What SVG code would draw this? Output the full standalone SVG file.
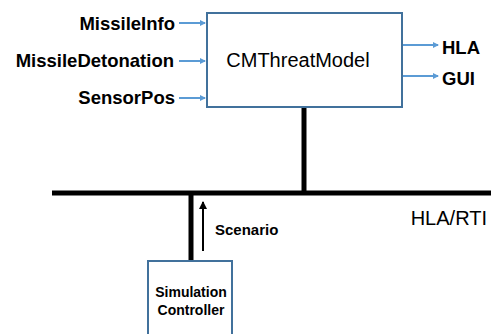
<svg xmlns="http://www.w3.org/2000/svg" width="491" height="334" viewBox="0 0 491 334">
<style>
.box{fill:#fff;stroke:#41719C;stroke-width:2}
.blue{stroke:#5B9BD5;stroke-width:2;fill:none}
.bus{stroke:#000;stroke-width:5;fill:none}
.lbl{font-family:"Liberation Sans",Arial,sans-serif;font-weight:bold;font-size:18.5px;fill:#000}
.reg{font-family:"Liberation Sans",Arial,sans-serif;font-size:20px;fill:#000}
.sm{font-family:"Liberation Sans",Arial,sans-serif;font-weight:bold;font-size:14px;fill:#000}
</style>
<defs>
<marker id="ab" markerWidth="6" markerHeight="6" refX="5" refY="3" orient="auto" markerUnits="userSpaceOnUse"><path d="M0,0 L6,3 L0,6 Z" fill="#5B9BD5"/></marker>
<marker id="ak" markerWidth="8" markerHeight="8" refX="7" refY="4" orient="auto" markerUnits="userSpaceOnUse"><path d="M0,0 L8,4 L0,8 Z" fill="#000"/></marker>
</defs>
<g id="connectors">
<line class="blue" x1="179" y1="23" x2="205" y2="23" marker-end="url(#ab)"/>
<line class="blue" x1="179" y1="61" x2="205" y2="61" marker-end="url(#ab)"/>
<line class="blue" x1="179" y1="98" x2="205" y2="98" marker-end="url(#ab)"/>
<line class="blue" x1="403" y1="45" x2="438" y2="45" marker-end="url(#ab)"/>
<line class="blue" x1="403" y1="76" x2="438" y2="76" marker-end="url(#ab)"/>
<line class="bus" x1="304" y1="108" x2="304" y2="193"/>
<line class="bus" x1="52" y1="193" x2="491" y2="193"/>
<line class="bus" x1="191" y1="193" x2="191" y2="260"/>
<line x1="203" y1="251" x2="203" y2="202" stroke="#000" stroke-width="2" marker-end="url(#ak)"/>
</g>
<g id="inputs">
<text class="lbl" x="175" y="30" text-anchor="end">MissileInfo</text>
<text class="lbl" x="174" y="67" text-anchor="end">MissileDetonation</text>
<text class="lbl" x="175" y="104" text-anchor="end">SensorPos</text>
</g>
<g id="CMThreatModel">
<rect class="box" x="207" y="13" width="195" height="94"/>
<text class="reg" x="298" y="67" text-anchor="middle">CMThreatModel</text>
</g>
<g id="outputs">
<text class="lbl" x="442" y="54">HLA</text>
<text class="lbl" x="442" y="85">GUI</text>
</g>
<g id="hlarti">
<text class="reg" x="487" y="225" text-anchor="end">HLA/RTI</text>
</g>
<g id="scenario">
<text class="sm" x="215" y="235" style="font-size:15px">Scenario</text>
</g>
<g id="SimulationController">
<rect class="box" x="148" y="261" width="84" height="80"/>
<text class="sm" x="191" y="297" text-anchor="middle">Simulation</text>
<text class="sm" x="191" y="315" text-anchor="middle">Controller</text>
</g>
</svg>
